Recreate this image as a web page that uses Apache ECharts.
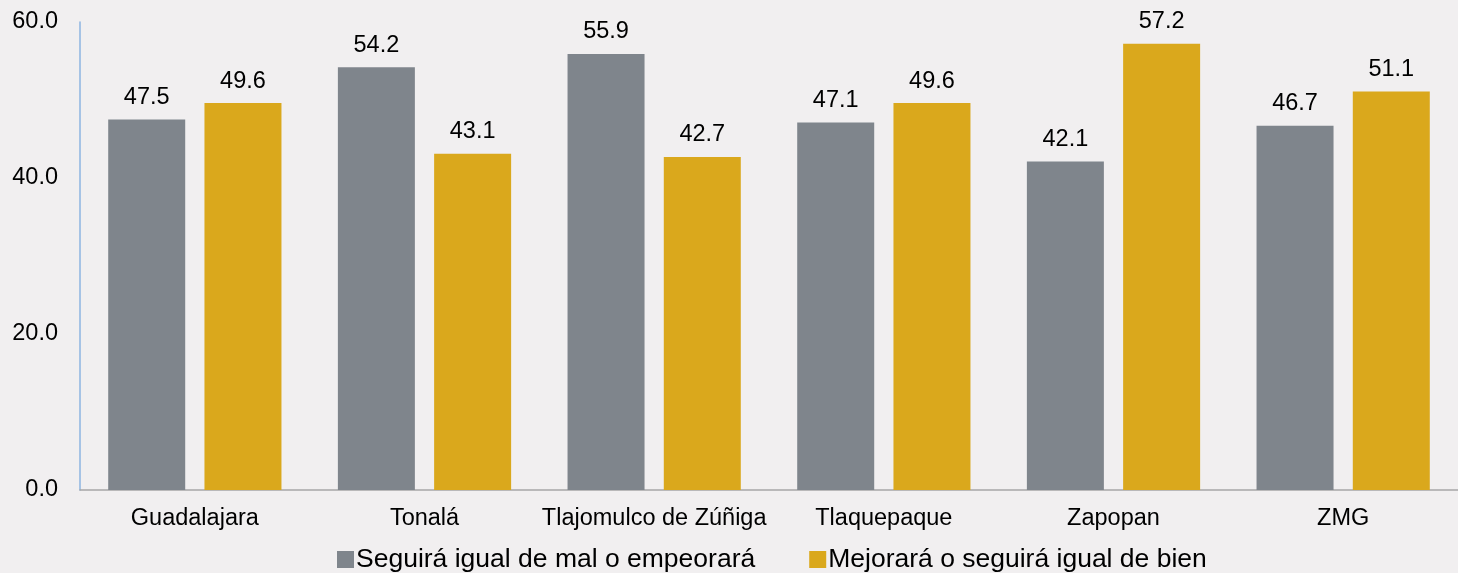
<!DOCTYPE html>
<html>
<head>
<meta charset="utf-8">
<script src="https://cdn.jsdelivr.net/npm/echarts@6/dist/echarts.min.js"></script>
<style>
  html, body { margin: 0; padding: 0; background: #F1EFF0; }
  #echarts-bar { width: 1458px; height: 573px; }
</style>
</head>
<body>
<div id="echarts-bar"></div>
<script>
// datos
var municipios = ['Guadalajara', 'Tonalá', 'Tlajomulco de Zúñiga', 'Tlaquepaque', 'Zapopan', 'ZMG'];
var serieMal = [47.5, 54.2, 55.9, 47.1, 42.1, 46.7];
var serieBien = [49.6, 43.1, 42.7, 49.6, 57.2, 51.1];
var nombreMal = 'Seguirá igual de mal o empeorará';
var nombreBien = 'Mejorará o seguirá igual de bien';

var fuente = '"Liberation Sans", Arial, sans-serif';

var myChart = echarts.init(document.getElementById('echarts-bar'));
option = {
  backgroundColor: '#F1EFF0',
  animation: false,
  color: ['#7F858C', '#DAA81C'],
  legend: {
    data: [nombreMal, nombreBien],
    left: 337,
    top: 546,
    padding: 0,
    icon: 'rect',
    itemWidth: 17,
    itemHeight: 17,
    itemGap: 54,
    textStyle: {
      color: '#000000',
      fontSize: 26.5,
      fontFamily: fuente,
      padding: [0, 0, 0, -3]
    }
  },
  grid: {
    left: 80,
    right: 0,
    top: 22,
    bottom: 83,
    containLabel: false
  },
  xAxis: {
    type: 'category',
    data: municipios,
    axisLine: { show: true, lineStyle: { color: '#A6A6A6', width: 1.5 } },
    axisTick: { show: false },
    axisLabel: {
      interval: 0,
      color: '#000000',
      fontSize: 23.5,
      fontFamily: fuente,
      margin: 17
    }
  },
  yAxis: {
    type: 'value',
    min: 0,
    max: 60,
    interval: 20,
    axisLine: { show: true, lineStyle: { color: '#8DB4E2', width: 1.5 } },
    axisTick: { show: false },
    splitLine: { show: false },
    axisLabel: {
      color: '#000000',
      fontSize: 23.5,
      fontFamily: fuente,
      margin: 22,
      formatter: function (v) { return v.toFixed(1); }
    }
  },
  series: [
    {
      name: nombreMal,
      type: 'bar',
      barWidth: 77,
      barGap: '25%',
      data: serieMal,
      label: {
        show: true,
        position: 'top',
        distance: 10,
        color: '#000000',
        fontSize: 23.5,
        fontFamily: fuente,
        formatter: function (p) { return p.value.toFixed(1); }
      }
    },
    {
      name: nombreBien,
      type: 'bar',
      barWidth: 77,
      barGap: '25%',
      data: serieBien,
      label: {
        show: true,
        position: 'top',
        distance: 10,
        color: '#000000',
        fontSize: 23.5,
        fontFamily: fuente,
        formatter: function (p) { return p.value.toFixed(1); }
      }
    }
  ]
};

myChart.setOption(option);
</script>
</body>
</html>
